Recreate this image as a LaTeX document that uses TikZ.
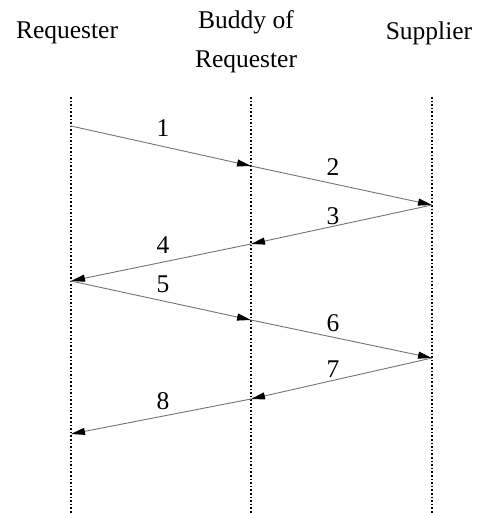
\documentclass[tikz,border=0pt]{standalone}
\usepackage{fontspec}
\setmainfont{Liberation Serif}
\usetikzlibrary{arrows.meta}
\begin{document}
\begin{tikzpicture}[x=1pt,y=-1pt,
  lbl/.style={font=\fontsize{25.5}{39}\selectfont, inner sep=0pt, align=center},
  num/.style={font=\fontsize{25.5}{30}\selectfont, inner sep=0pt},
  life/.style={line width=1.6pt, dotted, black},
  msg/.style={draw=black!55, line width=0.9pt, -{Triangle[length=14pt,width=7pt,fill=black,color=black]}}]
\useasboundingbox (0,0) rectangle (480,513);
% headers
\node[lbl] (hreq) at (67,33) {Requester};
\node[lbl] (hbud) at (246,42) {Buddy of\\Requester};
\node[lbl] (hsup) at (429,33) {Supplier};
% lifelines
\coordinate (lt) at (71,97);  \coordinate (lb) at (71,513);
\coordinate (mt) at (251,97); \coordinate (mb) at (251,513);
\coordinate (rt) at (432,97); \coordinate (rb) at (432,513);
\draw[life] (lt) -- (lb);
\draw[life] (mt) -- (mb);
\draw[life] (rt) -- (rb);
% message points
\coordinate (a0) at (71,126);
\coordinate (a1) at (251,166);
\coordinate (a2) at (432,205);
\coordinate (a3) at (251,244);
\coordinate (a4) at (71,281);
\coordinate (a5) at (251,320);
\coordinate (a6) at (432,358);
\coordinate (a7) at (251,399);
\coordinate (a8) at (71,434);
\draw[msg] (a0) -- (a1);
\draw[msg] (a1) -- (a2);
\draw[msg] (a2) -- (a3);
\draw[msg] (a3) -- (a4);
\draw[msg] (a4) -- (a5);
\draw[msg] (a5) -- (a6);
\draw[msg] (a6) -- (a7);
\draw[msg] (a7) -- (a8);
% labels
\node[num] (n1) at (163,128) {1};
\node[num] (n2) at (333,167) {2};
\node[num] (n3) at (333,216) {3};
\node[num] (n4) at (163,245) {4};
\node[num] (n5) at (163,284) {5};
\node[num] (n6) at (333,323) {6};
\node[num] (n7) at (333,369) {7};
\node[num] (n8) at (163,401) {8};
\end{tikzpicture}
\end{document}
